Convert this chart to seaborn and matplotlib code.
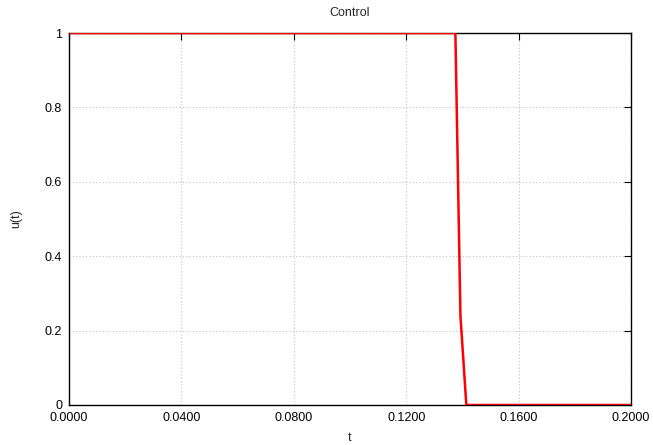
import pandas as pd
import matplotlib
matplotlib.use("Agg")
import matplotlib.pyplot as plt
import seaborn as sns

# control signal values
t_vals = [0.0, 0.1375, 0.1393, 0.1414, 0.2]
u_vals = [1.0, 1.0, 0.24, 0.0, 0.0]
x_ticks = [0.0, 0.04, 0.08, 0.12, 0.16, 0.2]
y_ticks = [0, 0.2, 0.4, 0.6, 0.8, 1]

df = pd.DataFrame({"t": t_vals, "u": u_vals})

sns.set_style("white")
plt.rcParams["font.family"] = ["Liberation Sans", "DejaVu Sans"]

fig = plt.figure(figsize=(6.53, 4.45), dpi=100)
ax = fig.add_axes([0.1057, 0.0899, 0.8606, 0.8359])

sns.lineplot(data=df, x="t", y="u", color="red", linewidth=1.8, ax=ax, zorder=3)

ax.set_xlim(0, 0.2)
ax.set_ylim(0, 1)
ax.set_xticks(x_ticks)
ax.set_xticklabels([f"{v:.4f}" for v in x_ticks])
ax.set_yticks(y_ticks)
ax.set_yticklabels([f"{v:g}" for v in y_ticks])
ax.tick_params(direction="in", length=5, width=0.8, labelsize=9, colors="black",
               top=True, right=True, pad=5)
ax.grid(True, color="#c0c0c0", linestyle=(0, (1, 2)), linewidth=0.8)
for s in ax.spines.values():
    s.set_color("black")
    s.set_linewidth(1)

ax.set_xlabel("t", fontsize=9, labelpad=6)
ax.set_ylabel("u(t)", fontsize=9, labelpad=16)
ax.set_title("Control", fontsize=9, pad=12)

fig.savefig("out.png", dpi=100)
